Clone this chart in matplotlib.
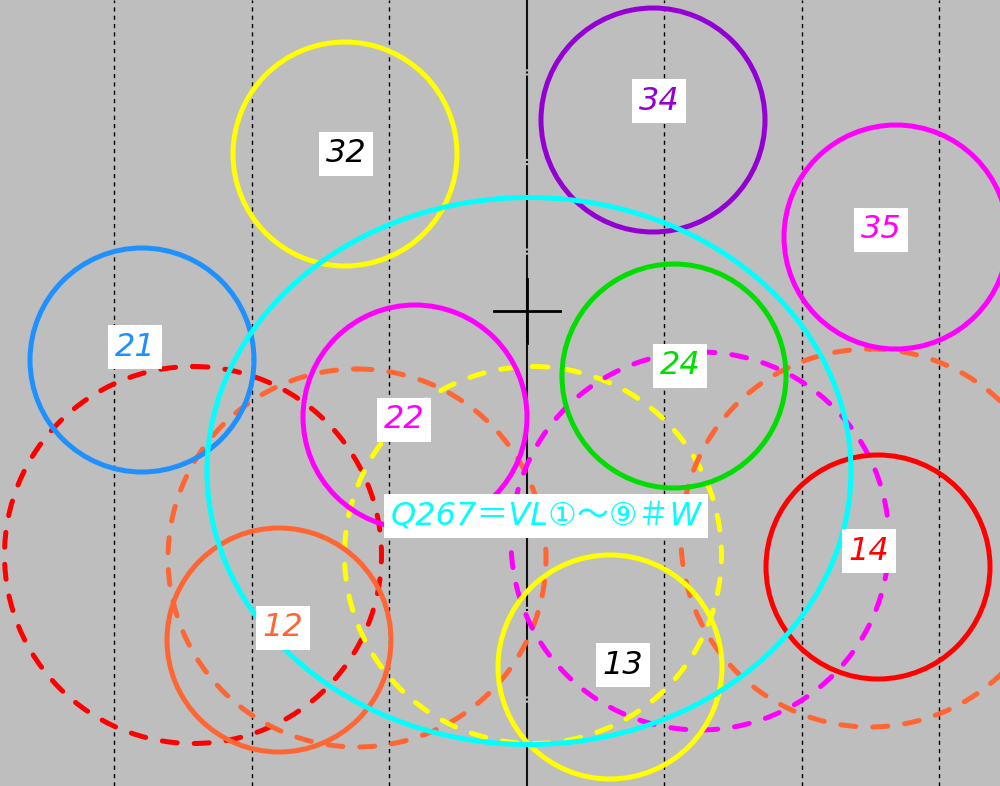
import matplotlib.pyplot as plt
from matplotlib.patches import Ellipse

BG = "#bebebe"

# solid circles: centre x, centre y, width, height, colour
solid_x = [345, 653, 896, 142, 415, 674, 878, 279, 610, 529]
solid_y = [154, 120, 237, 360, 417, 376, 567, 640, 667, 471]
solid_w = [224, 224, 224, 224, 224, 224, 224, 224, 224, 644]
solid_h = [224, 224, 224, 224, 224, 224, 224, 224, 224, 547]
solid_c = ["#ffff00", "#9400d3", "#ff00ff", "#1e90ff", "#ff00ff",
           "#00dd00", "#ff0000", "#ff6633", "#ffff00", "#00ffff"]

# dashed circles
dash_x = [193, 357, 533, 700, 870]
dash_y = [555, 558, 555, 541, 538]
dash_d = [377, 378, 377, 378, 378]
dash_c = ["#ff0000", "#ff6633", "#ffff00", "#ff00ff", "#ff6633"]

# labels
lab_text = ["32", "34", "35", "21", "22", "24", "14", "12", "13",
            "Q267＝VL①～⑨＃W"]
lab_x = [346, 659, 881, 135, 404, 680, 869, 283, 623, 546]
lab_y = [154, 101, 230, 347, 420, 366, 551, 628, 665, 516]
lab_c = ["black", "#9400d3", "#ff00ff", "#1e90ff", "#ff00ff",
         "#00dd00", "#ff0000", "#ff6633", "black", "#00ffff"]

grid_x = [114, 251.5, 389, 664, 801.5, 939]
centre_x = 526.5
cross = (527, 311)

fig = plt.figure(figsize=(10, 7.86), dpi=100)
fig.patch.set_facecolor(BG)
ax = fig.add_axes([0, 0, 1, 1])
ax.set_facecolor(BG)
ax.set_xlim(0, 1000)
ax.set_ylim(786, 0)
ax.axis("off")

for gx in grid_x:
    ax.axvline(gx, color="black", lw=1, linestyle=(0, (3, 3)), zorder=1)
ax.axvline(centre_x, color="#111111", lw=1.5, linestyle=(0, (40, 1, 1, 1)), zorder=1)

ax.plot([cross[0] - 33, cross[0] + 33], [cross[1], cross[1]], color="black", lw=2, zorder=2)
ax.plot([cross[0], cross[0]], [cross[1] - 32, cross[1] + 32], color="black", lw=2, zorder=2)

for x, y, d, c in zip(dash_x, dash_y, dash_d, dash_c):
    ax.add_patch(Ellipse((x, y), d, d, fill=False, edgecolor=c, lw=3.6,
                         linestyle=(0, (3.0, 3.4)), capstyle="round", zorder=3))

for x, y, w, h, c in zip(solid_x, solid_y, solid_w, solid_h, solid_c):
    ax.add_patch(Ellipse((x, y), w, h, fill=False, edgecolor=c, lw=3.6, zorder=4))

for t, x, y, c in zip(lab_text, lab_x, lab_y, lab_c):
    ax.text(x, y, t, color=c, fontsize=23, style="oblique", ha="center", va="center",
            family=["DejaVu Sans", "Noto Sans CJK JP"],
            bbox=dict(boxstyle="square,pad=0.2", facecolor="white", edgecolor="none"),
            zorder=5)

fig.savefig("out.png", dpi=100, facecolor=BG)
